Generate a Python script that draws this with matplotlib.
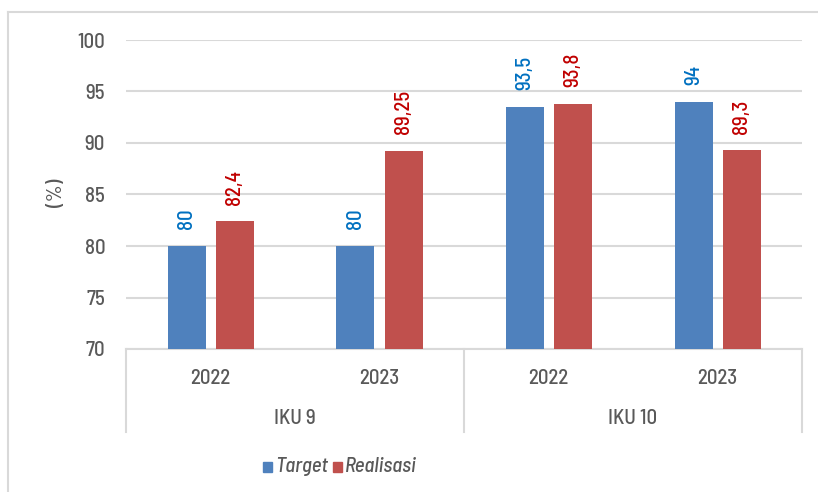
import matplotlib
matplotlib.use("Agg")
import matplotlib.pyplot as plt
from matplotlib import font_manager as fm
from matplotlib.patches import Rectangle
from matplotlib.lines import Line2D

groups = ["IKU 9", "IKU 10"]
years = ["2022", "2023", "2022", "2023"]
target = [80, 80, 93.5, 94]
realisasi = [82.4, 89.25, 93.8, 89.3]
target_labels = ["80", "80", "93,5", "94"]
real_labels = ["82,4", "89,25", "93,8", "89,3"]
yticks = [70, 75, 80, 85, 90, 95, 100]

avail = {f.name for f in fm.fontManager.ttflist}
fam = "Barlow Semi Condensed" if "Barlow Semi Condensed" in avail else "DejaVu Sans"
plt.rcParams["font.family"] = [fam, "DejaVu Sans"]
plt.rcParams["font.weight"] = "medium"

FS = 15
W, H = 818, 492
fig = plt.figure(figsize=(W / 100, H / 100), dpi=100)
L, R, T, B = 126, 802, 40, 349
ax = fig.add_axes([L / W, 1 - B / H, (R - L) / W, (B - T) / H])

blue, red = "#4F81BD", "#C0504D"
txt = "#595959"
grid = "#D9D9D9"

bw = 38 / 169
gap = 10 / 169
off = (bw + gap) / 2
n = len(years)
for i in range(n):
    c = i + 0.5
    ax.bar(c - off, target[i] - 70, bottom=70, width=bw, color=blue, zorder=3)
    ax.bar(c + off, realisasi[i] - 70, bottom=70, width=bw, color=red, zorder=3)
    ax.annotate(target_labels[i], (c - off, target[i]), xytext=(0, 12), textcoords="offset points",
                rotation=90, ha="center", va="bottom", color="#0070C0", fontsize=FS)
    ax.annotate(real_labels[i], (c + off, realisasi[i]), xytext=(0, 12), textcoords="offset points",
                rotation=90, ha="center", va="bottom", color="#C00000", fontsize=FS)

ax.set_xlim(0, n)
ax.set_ylim(70, 100)
ax.set_yticks(yticks)
ax.set_yticklabels([str(v) for v in yticks], fontsize=FS, color=txt)
ax.set_xticks([])
ax.tick_params(axis="y", length=0, pad=15)
for s in ["top", "right", "left"]:
    ax.spines[s].set_visible(False)
ax.spines["bottom"].set_color(grid)
ax.spines["bottom"].set_linewidth(1.5)
ax.yaxis.grid(True, color=grid, linewidth=1.5, zorder=0)
ax.set_axisbelow(True)
fig.text(56 / W, 1 - 193 / H, "(%)", rotation=90, ha="center", va="center", fontsize=FS, color=txt)

# category axis below
h = B - T
def yf(py):
    return -(py - B) / h
for xv in [0, 2, 4]:
    ax.add_line(Line2D([xv, xv], [yf(349), yf(432)], transform=ax.get_xaxis_transform(),
                       color=grid, linewidth=1.5, clip_on=False))
for i in range(n):
    ax.text(i + 0.5, yf(378), years[i], transform=ax.get_xaxis_transform(), ha="center", va="center",
            fontsize=FS, color=txt)
for g in range(len(groups)):
    ax.text(2 * g + 1, yf(419), groups[g], transform=ax.get_xaxis_transform(), ha="center", va="center",
            fontsize=FS, color=txt)

# legend
def fx(px):
    return px / W
def fy(py):
    return 1 - py / H
for (x0, col, lab) in [(263, blue, "Target"), (333, red, "Realisasi")]:
    fig.patches.append(Rectangle((fx(x0), fy(472)), 9 / W, 10 / H, transform=fig.transFigure,
                                 color=col))
    fig.text(fx(x0 + 12), fy(466), lab, ha="left", va="center", fontsize=FS, color=txt,
             style="italic")

# chart border
fig.add_artist(Line2D([fx(8), fx(8)], [fy(12), 0], transform=fig.transFigure, color=grid, linewidth=1.5))
fig.add_artist(Line2D([fx(8), 1], [fy(12), fy(12)], transform=fig.transFigure, color=grid, linewidth=1.5))

fig.savefig("out.png", dpi=100)
